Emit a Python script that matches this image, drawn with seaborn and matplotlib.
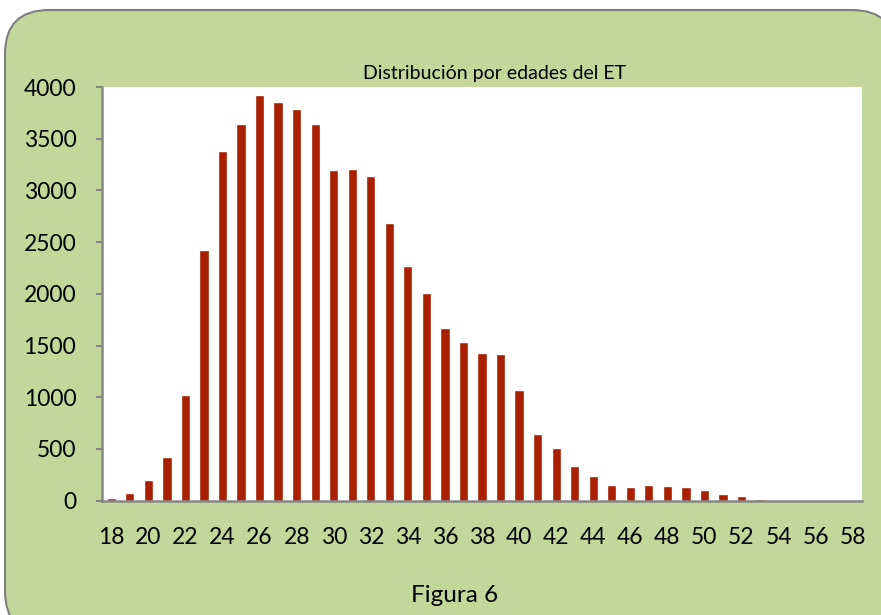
import matplotlib
matplotlib.use("Agg")
import matplotlib.pyplot as plt
from matplotlib.patches import FancyBboxPatch
import numpy as np
import pandas as pd
import seaborn as sns

# Ages 18..58 and number of people at each age
ages = list(range(18, 59))
counts = [25, 71, 197, 423, 1019, 2426, 3384, 3645, 3926, 3852,
          3790, 3645, 3200, 3207, 3142, 2687, 2271, 2006, 1668, 1536,
          1429, 1419, 1068, 645, 510, 332, 235, 148, 129, 155,
          139, 129, 100, 68, 48, 19, 6, 5, 8, 4, 0]
tick_labels = [str(a) for a in ages[::2]]
y_ticks = list(range(0, 4001, 500))

title = "Distribución por edades del ET"
caption = "Figura 6"

sns.set_theme(style="white")
plt.rcParams["font.family"] = ["Lato", "DejaVu Sans"]

W, H = 881, 615
fig = plt.figure(figsize=(W / 100, H / 100), dpi=100)
fig.patch.set_facecolor("white")

# Rounded green panel behind the chart
panel = FancyBboxPatch((5 / W, -20 / H), (W + 10) / W, (H + 10) / H,
                       boxstyle="round,pad=0,rounding_size=0.05",
                       transform=fig.transFigure, facecolor="#c4d79b",
                       edgecolor="#7f7f7f", linewidth=1.5,
                       mutation_aspect=W / H, zorder=-10)
fig.patches.append(panel)

ax = fig.add_axes([102 / W, (H - 500.7) / H, (862 - 102) / W, (500.7 - 87) / H])
ax.set_zorder(5)
ax.set_facecolor("white")

df = pd.DataFrame({"edad": ages, "n": counts})
sns.barplot(data=df, x="edad", y="n", color="#a92000", saturation=1,
            width=0.5, ax=ax, errorbar=None)

ax.set_xlim(-0.5, len(ages) - 0.5)
ax.set_ylim(0, 4000)
ax.set_yticks(y_ticks)
ax.set_yticklabels([str(v) for v in y_ticks])
ax.set_xticks(range(0, len(ages), 2))
ax.set_xticklabels(tick_labels)
ax.set_xlabel("")
ax.set_ylabel("")

for side in ("top", "right"):
    ax.spines[side].set_visible(False)
for side in ("left", "bottom"):
    ax.spines[side].set_color("#868686")
    ax.spines[side].set_linewidth(1.8)

ax.tick_params(axis="y", which="both", left=True, length=4.5, width=1.5,
               color="#868686", pad=14, labelsize=16.5, labelcolor="black")
ax.tick_params(axis="x", which="both", bottom=False, pad=13,
               labelsize=16.5, labelcolor="black")

fig.text(495 / W, (H - 74) / H, title, ha="center", va="center",
         fontsize=14, color="black", zorder=10)
fig.text(455 / W, (H - 596) / H, caption, ha="center", va="center",
         fontsize=17.5, color="black", zorder=10)

fig.savefig("out.png", dpi=100, facecolor=fig.get_facecolor())
